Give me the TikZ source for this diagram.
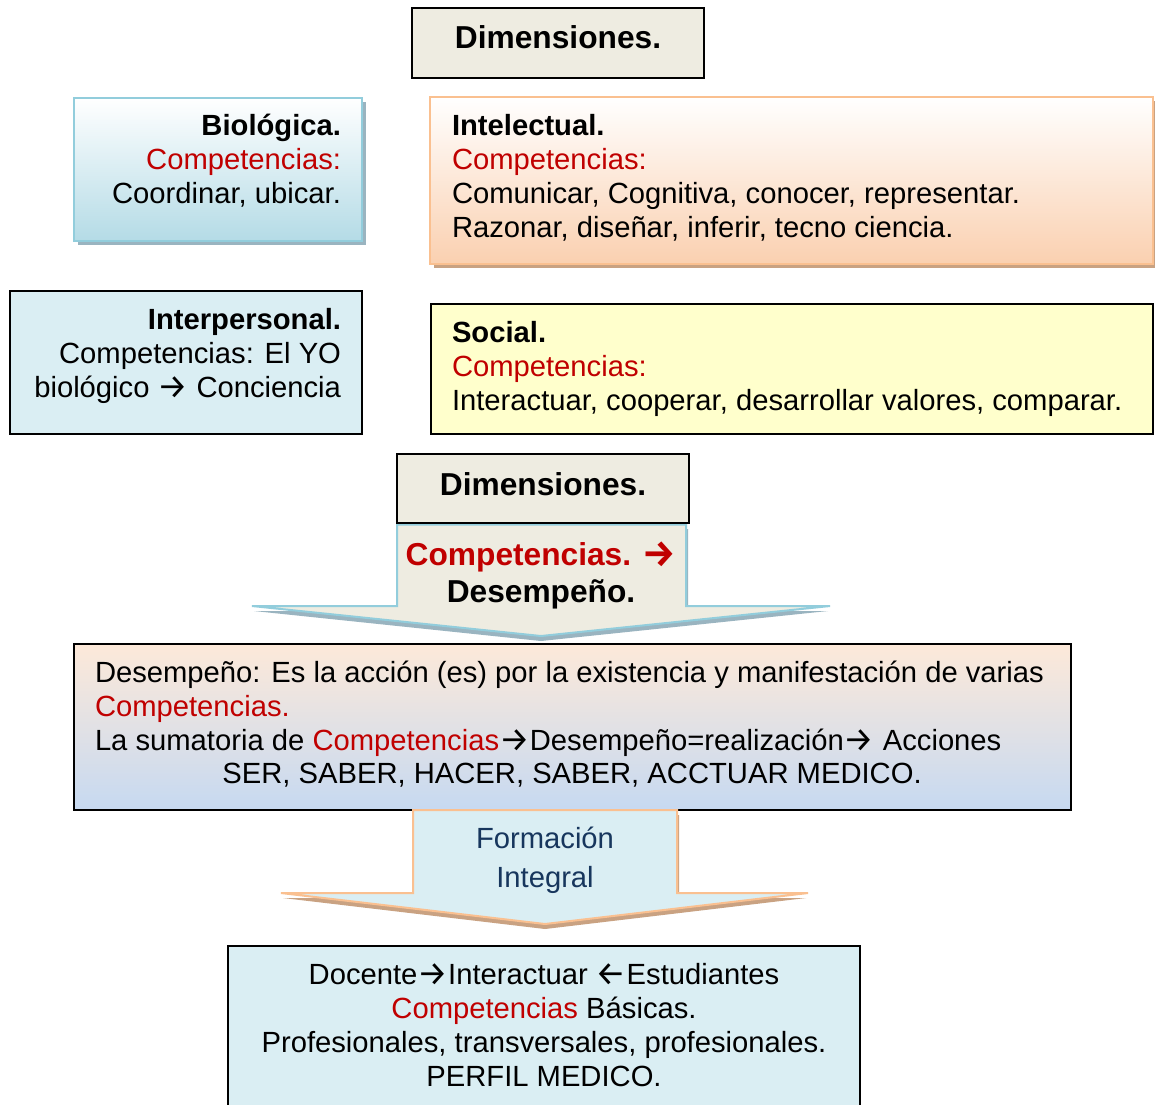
\documentclass[tikz,border=0pt]{standalone}
\usepackage{fontspec}
\usepackage{graphicx}
\setmainfont{Liberation Sans}
\newfontfamily\dv{Fira Sans}
\definecolor{beige}{HTML}{EEECE1}
\definecolor{bluebd}{HTML}{92CDDC}
\definecolor{bluebot}{HTML}{B4DBE6}
\definecolor{orangebd}{HTML}{FAC090}
\definecolor{peachbot}{HTML}{FAD0B0}
\definecolor{paleblue}{HTML}{DAEEF3}
\definecolor{paleyel}{HTML}{FFFFCC}
\definecolor{desTop}{HTML}{FDE9D9}
\definecolor{desBot}{HTML}{C6D9F1}
\definecolor{compred}{HTML}{C00000}
\definecolor{navy}{HTML}{17365D}
\definecolor{shblue}{HTML}{9AB4C0}
\definecolor{shbrown}{HTML}{C9A282}
\tikzset{
  txt/.style={font=\fontsize{29.2}{34}\selectfont, inner sep=0pt, outer sep=0pt},
  headtxt/.style={font=\bfseries\fontsize{31.7}{37}\selectfont, inner sep=0pt, outer sep=0pt},
  blkbox/.style={draw=black, line width=1.6pt, inner sep=0pt, outer sep=0pt, anchor=north west},
  softbox/.style={line width=2.2pt, inner sep=0pt, outer sep=0pt, anchor=north west},
  blockarrow/.style={line width=2pt, line join=miter},
}
\newcommand{\fr}{\rule{0pt}{30pt}}
\newcommand{\ar}[1]{\raisebox{-1.5pt}{\scalebox{1.17}{\dv #1}}}
\begin{document}
\begin{tikzpicture}[x=1pt,y=-1pt]
\clip (0,0) rectangle (1155,1104);
\fill[white] (0,0) rectangle (1155,1104);

% shadows
\fill[shblue] (78,102) rectangle (366,245);
\fill[shbrown] (434,101) rectangle (1160,268);

% top boxes
\node[blkbox, fill=beige, minimum width=292pt, minimum height=70pt] (dimtop) at (412,8) {};
\node[softbox, draw=bluebd, top color=white, bottom color=bluebot, minimum width=288pt, minimum height=143pt] (bio) at (74,98) {};
\node[softbox, draw=orangebd, top color=white, bottom color=peachbot, minimum width=723pt, minimum height=167pt] (intel) at (430,97) {};
\node[blkbox, fill=paleblue, minimum width=352pt, minimum height=143pt] (inter) at (10,291) {};
\node[blkbox, fill=paleyel, minimum width=722pt, minimum height=130pt] (social) at (431,304) {};

% arrow 1
\fill[shblue] (399,529) -- (399,611) -- (254,611) -- (541,641) -- (828,611) -- (688,611) -- (688,529) -- cycle;
\draw[blockarrow, draw=bluebd, fill=beige] (397,524.5) -- (397,606) -- (252,606) -- (541,636) -- (830,606) -- (686,606) -- (686,524.5) -- cycle;
\node[blkbox, fill=beige, minimum width=292pt, minimum height=69pt] (dimmid) at (397,454) {};

% Desempeno box
\node[blkbox, top color=desTop, bottom color=desBot, minimum width=997pt, minimum height=166pt] (desem) at (74,644) {};

% arrow 2
\fill[shbrown] (415,815) -- (415,898) -- (283,898) -- (545,929) -- (806,898) -- (679,898) -- (679,815) -- cycle;
\draw[blockarrow, draw=orangebd, fill=paleblue] (413,810) -- (413,893) -- (281,893) -- (545,924) -- (808,893) -- (677,893) -- (677,810) -- cycle;

% bottom box
\node[blkbox, fill=paleblue, minimum width=632pt, minimum height=170pt] (perfil) at (228,946) {};

% texts
\node[headtxt, anchor=base] (dimtopT) at (558,48) {Dimensiones.};
\node[txt, align=right, anchor=north east] (bioT) at (341,105)
  {\fr\textbf{Biológica.}\\ \textcolor{compred}{Competencias:}\\ Coordinar, ubicar.};
\node[txt, align=left, anchor=north west] (intelT) at (452,105)
  {\fr\textbf{Intelectual.}\\ \textcolor{compred}{Competencias:}\\ Comunicar, Cognitiva, conocer, representar.\\ Razonar, diseñar, inferir, tecno ciencia.};
\node[txt, align=right, anchor=north east] (interT) at (341,299)
  {\fr\textbf{Interpersonal.}\\ Competencias: El YO\\ biológico \ar{→} Conciencia};
\node[txt, align=left, anchor=north west] (socialT) at (452,312)
  {\fr\textbf{Social.}\\ \textcolor{compred}{Competencias:}\\ Interactuar, cooperar, desarrollar valores, comparar.};
\node[headtxt, anchor=base] (dimmidT) at (543,495) {Dimensiones.};
\node[headtxt, align=center, anchor=north] (arr1T) at (541,533)
  {\rule{0pt}{32pt}\textcolor{compred}{Competencias. \ar{\bfseries →}}\\ Desempeño.};
\node[txt, align=left, anchor=north west] (desemT) at (95,652)
  {\fr Desempeño: Es la acción (es) por la existencia y manifestación de varias\\ \textcolor{compred}{Competencias.}\\ La sumatoria de \textcolor{compred}{Competencias}\ar{→}Desempeño=realización\ar{→} Acciones};
\node[txt, anchor=base] (desemL) at (572,783) {SER, SABER, HACER, SABER, ACCTUAR MEDICO.};
\node[txt, font=\fontsize{29.2}{39}\selectfont, text=navy, align=center, anchor=north] (formT) at (545,818)
  {\fr Formación\\ Integral};
\node[txt, align=center, anchor=north] (perfilT) at (544,954)
  {\fr Docente\ar{→}Interactuar \ar{←}Estudiantes\\ \textcolor{compred}{Competencias} Básicas.\\ Profesionales, transversales, profesionales.\\ PERFIL MEDICO.};
\end{tikzpicture}
\end{document}
